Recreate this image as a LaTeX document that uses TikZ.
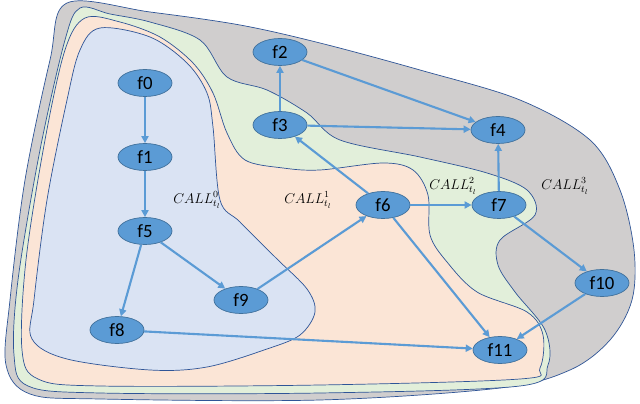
\documentclass[tikz,border=0pt]{standalone}
\usepackage{fontspec}
\setmainfont{Carlito}
\usetikzlibrary{shapes.geometric,arrows.meta}
\definecolor{callgray}{HTML}{D0CECE}
\definecolor{callgreen}{HTML}{E2EFDA}
\definecolor{callpeach}{HTML}{FBE5D6}
\definecolor{callblue}{HTML}{DAE3F3}
\definecolor{rim}{HTML}{2F5597}
\definecolor{fblue}{HTML}{5B9BD5}
\definecolor{fedge}{HTML}{41719C}
\tikzset{
	region/.style={draw=rim,line width=.6pt},
	fnode/.style={ellipse,fill=fblue,draw=fedge,line width=.6pt,minimum width=1.62cm,minimum height=.81cm,inner sep=0pt,font=\fontsize{16}{18}\selectfont},
	flow/.style={draw=fblue,line width=1.8pt,-{Triangle[length=6pt,width=6pt]}},
	calllabel/.style={font=\large,inner sep=1pt}
}
\begin{document}
\begin{tikzpicture}[x=.03cm,y=-.03cm]
	\useasboundingbox (0,0) rectangle (640,404);

	% nested call regions
	\draw[region,fill=callgray] plot[smooth cycle,tension=.55] coordinates {(67,3) (150,12) (240,25) (320,43) (420,70) (520,100) (590,140) (620,190) (634,250) (632,300) (610,340) (570,370) (500,388) (320,400) (100,399) (30,394) (6,365) (10,300) (25,180) (50,60)};
	\draw[region,fill=callgreen] plot[smooth cycle,tension=.55] coordinates {(80,8) (110,14) (150,22) (200,40) (227,77) (267,90) (307,113) (340,140) (420,157) (487,173) (527,190) (535,215) (500,240) (498,265) (515,292) (545,330) (548,365) (520,386) (320,393) (100,393) (28,386) (14,355) (18,280) (40,150) (65,40)};
	\draw[region,fill=callpeach] plot[smooth cycle,tension=.55] coordinates {(85,18) (120,22) (160,37) (193,63) (213,93) (227,133) (245,160) (283,168) (320,170) (383,163) (413,170) (428,195) (430,235) (447,262) (477,292) (527,312) (543,335) (540,368) (520,379) (320,385) (100,386) (38,379) (22,350) (26,260) (45,140) (65,50)};
	\draw[region,fill=callblue] plot[smooth cycle,tension=.55] coordinates {(100,28) (150,37) (187,63) (207,93) (213,127) (220,200) (240,222) (277,259) (307,289) (315,312) (300,335) (267,349) (207,367) (150,370) (67,359) (32,339) (34,300) (47,200) (67,100) (80,50)};

	\node[calllabel] (call0) at (197,200) {$CALL^{0}_{t_l}$};
	\node[calllabel] (call1) at (308,200) {$CALL^{1}_{t_l}$};
	\node[calllabel] (call2) at (453,186) {$CALL^{2}_{t_l}$};
	\node[calllabel] (call3) at (565,186) {$CALL^{3}_{t_l}$};

	% functions
	\node[fnode] (f0) at (145,83) {f0};
	\node[fnode] (f1) at (145,157) {f1};
	\node[fnode] (f5) at (145,231) {f5};
	\node[fnode] (f9) at (241,300) {f9};
	\node[fnode] (f8) at (117,330) {f8};
	\node[fnode] (f2) at (280,52) {f2};
	\node[fnode] (f3) at (280,125) {f3};
	\node[fnode] (f4) at (498,130) {f4};
	\node[fnode] (f6) at (383,205) {f6};
	\node[fnode] (f7) at (499,205) {f7};
	\node[fnode] (f10) at (602,283) {f10};
	\node[fnode] (f11) at (500,350) {f11};

	% calls
	\draw[flow] (f0) -- (f1);
	\draw[flow] (f1) -- (f5);
	\draw[flow] (f5) -- (f8);
	\draw[flow] (f5) -- (f9);
	\draw[flow] (f9) -- (f6);
	\draw[flow] (f8) -- (f11);
	\draw[flow] (f6) -- (f11);
	\draw[flow] (f6) -- (f3);
	\draw[flow] (f6) -- (f7);
	\draw[flow] (f3) -- (f2);
	\draw[flow] (f3) -- (f4);
	\draw[flow] (f2) -- (f4);
	\draw[flow] (f7) -- (f4);
	\draw[flow] (f7) -- (f10);
	\draw[flow] (f10) -- (f11);
\end{tikzpicture}
\end{document}
